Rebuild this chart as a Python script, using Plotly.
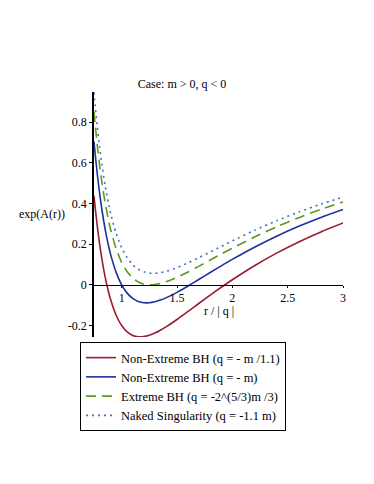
import plotly.graph_objects as go

r = [0.75, 0.76, 0.78, 0.80, 0.82, 0.85, 0.88, 0.90, 0.95, 1.00, 1.05, 1.10, 1.15,
     1.20, 1.25, 1.30, 1.35, 1.40, 1.50, 1.60, 1.70, 1.80, 1.90, 2.00, 2.20, 2.40,
     2.60, 2.80, 3.00]

red = [0.437037, 0.383291, 0.286735, 0.203125, 0.130747, 0.040098, -0.032588,
       -0.072702, -0.149438, -0.2, -0.231400, -0.248685, -0.255527, -0.254629,
       -0.248, -0.237142, -0.223188, -0.206998, -0.170371, -0.130859, -0.090576,
       -0.050754, -0.012101, 0.025, 0.093914, 0.155671, 0.210742, 0.259840, 0.303704]

blue = [0.703704, 0.646449, 0.543145, 0.453125, 0.374650, 0.275392, 0.194685,
        0.149520, 0.061088, 0.0, -0.040924, -0.066867, -0.081614, -0.087963,
        -0.088, -0.083296, -0.075039, -0.064140, -0.037037, -0.005859, 0.027071,
        0.060357, 0.093162, 0.125, 0.184823, 0.239005, 0.287665, 0.331268, 0.370370]

green = [0.850527, 0.791341, 0.684322, 0.590772, 0.508940, 0.404942, 0.319819,
         0.271873, 0.177002, 0.110118, 0.063950, 0.033240, 0.014140, 0.003802,
         0.000094, 0.001411, 0.006529, 0.014515, 0.036375, 0.062965, 0.091847,
         0.121534, 0.151119, 0.180059, 0.234877, 0.284887, 0.330018, 0.370596, 0.407076]

dotted = [0.946128, 0.885684, 0.776246, 0.680398, 0.596379, 0.489296, 0.401296,
          0.351540, 0.252475, 0.181818, 0.132236, 0.098422, 0.076488, 0.063552,
          0.057455, 0.056565, 0.059641, 0.065730, 0.084175, 0.107777, 0.134023,
          0.161367, 0.188856, 0.215909, 0.267468, 0.314762, 0.357595, 0.396203, 0.430976]

names = ["Non-Extreme BH (q = - m /1.1)", "Non-Extreme BH (q = - m)",
         "Extreme BH (q = -2^(5/3)m /3)", "Naked Singularity (q = -1.1 m)"]

x_ticks = [1, 1.5, 2, 2.5, 3]
x_ticktext = ["1", "1.5", "2", "2.5", "3"]
y_ticks = [-0.2, 0, 0.2, 0.4, 0.6, 0.8]
y_ticktext = ["-0.2", "0", "0.2", "0.4", "0.6", "0.8"]

FONT = "Liberation Serif, Times New Roman, serif"
ymin, ymax = -0.2565, 0.9475
xmin, xmax = 0.75, 3.0

fig = go.Figure()
styles = [("#9b1b30", "solid"), ("#1f2f9e", "solid"), ("#5a9a1a", "10px,6px"), ("#4a6fc0", "2px,4px")]
for ys, nm, (c, d) in zip([red, blue, green, dotted], names, styles):
    fig.add_trace(go.Scatter(x=r, y=ys, mode="lines", name=nm,
                             line=dict(color=c, width=1.6, dash=d, shape="spline", smoothing=0.6)))

zero_frac = (0 - ymin) / (ymax - ymin)

fig.update_layout(
    width=374, height=484,
    paper_bgcolor="white", plot_bgcolor="white",
    margin=dict(l=94, r=31, t=92, b=147),
    font=dict(family=FONT, size=11, color="black"),
    title=dict(text="Case: m > 0, q < 0", x=182/374, xref="container", xanchor="center",
               y=1 - 84/484, yref="container", yanchor="middle",
               font=dict(family=FONT, size=12, color="black")),
    showlegend=True,
    legend=dict(x=(80-94)/249, y=(337-342)/245, xanchor="left", yanchor="top",
                bordercolor="black", borderwidth=1, bgcolor="white",
                font=dict(family=FONT, size=12.5, color="black"),
                tracegroupgap=0, itemwidth=30),
    xaxis=dict(range=[xmin, xmax], showgrid=False, zeroline=False,
               tickvals=x_ticks, ticktext=x_ticktext,
               showline=True, linecolor="black", linewidth=1,
               anchor="free", position=zero_frac,
               ticks="outside", ticklen=2, tickcolor="black",
               tickfont=dict(family=FONT, size=12, color="black")),
    yaxis=dict(range=[ymin, ymax], showgrid=False, zeroline=False,
               tickvals=y_ticks, ticktext=y_ticktext,
               showline=True, linecolor="black", linewidth=1.5,
               ticks="outside", ticklen=3, tickcolor="black",
               tickfont=dict(family=FONT, size=12, color="black")),
    annotations=[
        dict(text="exp(A(r))", x=(42-94)/249, y=(337-214)/245, xref="paper", yref="paper",
             xanchor="center", yanchor="middle", showarrow=False,
             font=dict(family=FONT, size=12, color="black")),
        dict(text="r / | q |", x=(219-94)/249, y=(337-311)/245, xref="paper", yref="paper",
             xanchor="center", yanchor="middle", showarrow=False,
             font=dict(family=FONT, size=12, color="black")),
    ],
)

fig.write_html("out.html", config={"displayModeBar": False},
               post_script="document.body.style.margin='0px';")
